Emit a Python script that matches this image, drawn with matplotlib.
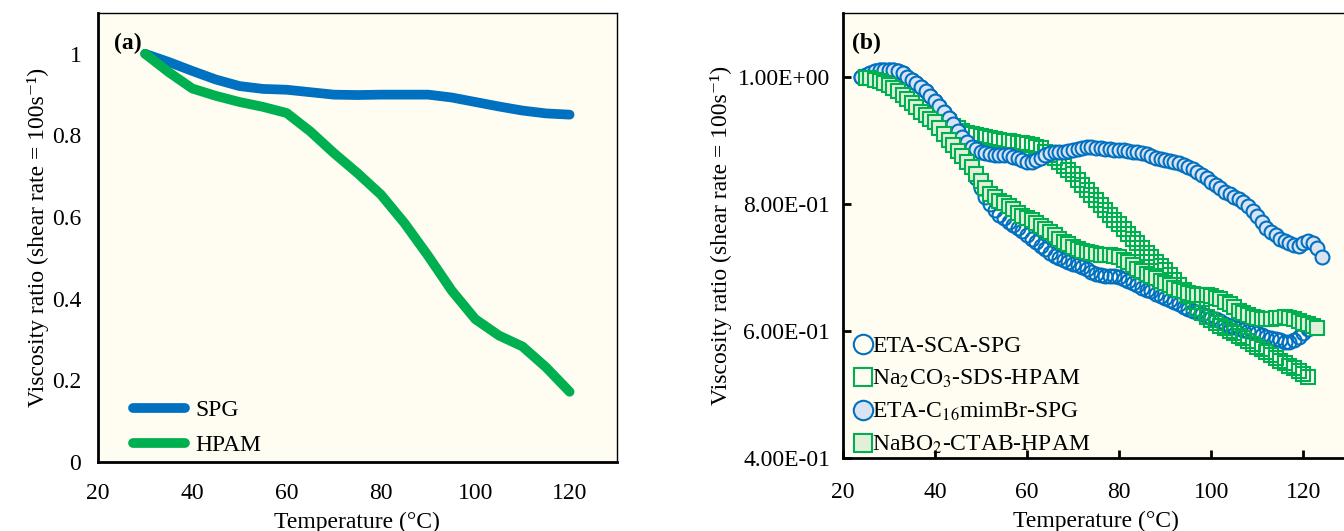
import numpy as np
import matplotlib
matplotlib.use("Agg")
import matplotlib.pyplot as plt

plt.rcParams['font.family'] = ['Liberation Serif', 'DejaVu Serif']
plt.rcParams['mathtext.fontset'] = 'stix'

# ---------------- Panel (a) data ----------------
temp_a = [30, 35, 40, 45, 50, 55, 60, 65, 70, 75, 80, 85, 90, 95, 100, 105, 110, 115, 120]
spg_a = [1.0, 0.98, 0.958, 0.937, 0.921, 0.914, 0.912, 0.906, 0.9, 0.899, 0.9, 0.9, 0.9, 0.893,
         0.882, 0.871, 0.861, 0.854, 0.851]
hpam_a = [1.0, 0.955, 0.915, 0.897, 0.882, 0.87, 0.855, 0.81, 0.757, 0.708, 0.655, 0.585, 0.505,
          0.42, 0.35, 0.31, 0.283, 0.232, 0.172]

# ---------------- Panel (b) data ----------------
temp_sca_spg = np.arange(24, 122)
sca_spg = [1.000, 1.003, 1.006, 1.008, 1.010, 1.011, 1.011, 1.010, 1.008, 1.005,
           1.000, 0.995, 0.990, 0.984, 0.977, 0.970, 0.962, 0.954, 0.945, 0.935,
           0.923, 0.910, 0.893, 0.875, 0.857, 0.840, 0.824, 0.810, 0.799, 0.790,
           0.783, 0.777, 0.772, 0.767, 0.762, 0.757, 0.751, 0.745, 0.739, 0.733,
           0.728, 0.723, 0.718, 0.714, 0.711, 0.708, 0.705, 0.703, 0.700, 0.697,
           0.692, 0.689, 0.688, 0.687, 0.687, 0.686, 0.685, 0.682, 0.678, 0.675,
           0.672, 0.668, 0.665, 0.662, 0.658, 0.655, 0.652, 0.648, 0.645, 0.642,
           0.638, 0.635, 0.632, 0.630, 0.627, 0.624, 0.621, 0.618, 0.615, 0.611,
           0.608, 0.606, 0.604, 0.602, 0.600, 0.598, 0.596, 0.594, 0.591, 0.589,
           0.587, 0.585, 0.583, 0.583, 0.585, 0.590, 0.597, 0.603]

temp_sds_hpam = np.arange(25, 122)
sds_hpam = [1.000, 1.000, 0.999, 0.998, 0.997, 0.995, 0.993, 0.990, 0.986, 0.982,
            0.977, 0.971, 0.965, 0.958, 0.952, 0.945, 0.939, 0.933, 0.928, 0.923,
            0.919, 0.915, 0.912, 0.910, 0.908, 0.906, 0.905, 0.903, 0.902, 0.900,
            0.899, 0.898, 0.897, 0.896, 0.895, 0.894, 0.893, 0.890, 0.887, 0.882,
            0.877, 0.872, 0.866, 0.860, 0.853, 0.846, 0.838, 0.830, 0.822, 0.814,
            0.806, 0.798, 0.790, 0.783, 0.775, 0.768, 0.760, 0.753, 0.745, 0.738,
            0.730, 0.723, 0.716, 0.709, 0.702, 0.695, 0.688, 0.680, 0.672, 0.664,
            0.655, 0.645, 0.635, 0.628, 0.622, 0.617, 0.613, 0.608, 0.604, 0.600,
            0.596, 0.592, 0.588, 0.584, 0.580, 0.575, 0.571, 0.566, 0.562, 0.557,
            0.553, 0.549, 0.545, 0.541, 0.537, 0.532, 0.528]

temp_c16_spg = np.arange(24, 125)
c16_spg = [1.000, 1.003, 1.006, 1.008, 1.010, 1.011, 1.011, 1.010, 1.008, 1.005,
           1.000, 0.995, 0.990, 0.984, 0.977, 0.970, 0.962, 0.954, 0.945, 0.935,
           0.925, 0.915, 0.905, 0.897, 0.890, 0.886, 0.882, 0.880, 0.878, 0.877,
           0.877, 0.876, 0.876, 0.874, 0.872, 0.869, 0.866, 0.865, 0.868, 0.872,
           0.876, 0.879, 0.881, 0.882, 0.882, 0.883, 0.884, 0.886, 0.888, 0.889,
           0.889, 0.888, 0.887, 0.886, 0.886, 0.885, 0.885, 0.884, 0.883, 0.882,
           0.881, 0.880, 0.878, 0.875, 0.872, 0.870, 0.868, 0.867, 0.866, 0.864,
           0.861, 0.858, 0.854, 0.850, 0.845, 0.840, 0.834, 0.829, 0.824, 0.819,
           0.815, 0.811, 0.807, 0.802, 0.797, 0.789, 0.780, 0.771, 0.762, 0.756,
           0.750, 0.745, 0.741, 0.738, 0.735, 0.733, 0.738, 0.742, 0.738, 0.730,
           0.716]

temp_ctab_hpam = np.arange(25, 124)
ctab_hpam = [0.998, 0.997, 0.995, 0.993, 0.990, 0.986, 0.982, 0.977, 0.971, 0.965,
             0.958, 0.952, 0.945, 0.940, 0.934, 0.928, 0.919, 0.909, 0.900, 0.892,
             0.883, 0.875, 0.866, 0.857, 0.846, 0.835, 0.825, 0.815, 0.810, 0.805,
             0.801, 0.797, 0.791, 0.785, 0.781, 0.778, 0.774, 0.770, 0.765, 0.760,
             0.755, 0.750, 0.745, 0.740, 0.736, 0.732, 0.729, 0.726, 0.724, 0.722,
             0.721, 0.720, 0.720, 0.720, 0.718, 0.716, 0.712, 0.708, 0.703, 0.698,
             0.694, 0.690, 0.686, 0.683, 0.679, 0.676, 0.672, 0.668, 0.665, 0.662,
             0.660, 0.658, 0.657, 0.657, 0.656, 0.655, 0.652, 0.650, 0.646, 0.642,
             0.637, 0.632, 0.628, 0.625, 0.622, 0.620, 0.619, 0.618, 0.619, 0.620,
             0.621, 0.622, 0.620, 0.618, 0.616, 0.613, 0.611, 0.608, 0.604]

labels_b = ['ETA-SCA-SPG', 'Na$_2$CO$_3$-SDS-HPAM', 'ETA-C$_{16}$mimBr-SPG', 'NaBO$_2$-CTAB-HPAM']
xticks = [20, 40, 60, 80, 100, 120]
yticks_a = [0, 0.2, 0.4, 0.6, 0.8, 1.0]
yticklabels_a = ['0', '0.2', '0.4', '0.6', '0.8', '1']
yticks_b = [0.4, 0.6, 0.8, 1.0]
yticklabels_b = ['4.00E-01', '6.00E-01', '8.00E-01', '1.00E+00']
ylabel_text = 'Viscosity ratio (shear rate = 100s\u207b\u00b9)'

BLUE = '#0070C0'
GREEN = '#00B050'
BG = '#FFFDF2'
FS = 17

fig = plt.figure(figsize=(13.44, 5.31), dpi=100)

def style_axes(ax):
    ax.set_facecolor(BG)
    for s in ['left', 'bottom']:
        ax.spines[s].set_linewidth(2.0)
    for s in ['top', 'right']:
        ax.spines[s].set_linewidth(1.0)
    for s in ax.spines.values():
        s.set_color('black')

# ---- Panel (a) ----
axa = fig.add_axes([0.0729, 0.130, 0.386, 0.8455])
style_axes(axa)
axa.plot(temp_a, spg_a, color=BLUE, lw=7, solid_capstyle='round', solid_joinstyle='round', label='SPG')
axa.plot(temp_a, hpam_a, color=GREEN, lw=7, solid_capstyle='round', solid_joinstyle='round', label='HPAM')
axa.set_xlim(20, 130)
axa.set_ylim(0, 1.1)
axa.set_xticks(xticks)
axa.set_yticks(yticks_a)
axa.set_yticklabels(yticklabels_a)
axa.tick_params(axis='both', length=0, labelsize=FS)
axa.tick_params(axis='x', pad=15)
axa.tick_params(axis='y', pad=12)
axa.set_xlabel('Temperature (°C)', fontsize=FS, labelpad=6)
axa.set_ylabel(ylabel_text, fontsize=FS, labelpad=2)
axa.text(0.03, 0.955, '(a)', transform=axa.transAxes, fontsize=FS, fontweight='bold', va='top')
leg_a = axa.legend(loc='lower left', bbox_to_anchor=(0.027, -0.034), frameon=False, fontsize=FS,
                   handlelength=2.2, handletextpad=0.45, labelspacing=0.55)

# ---- Panel (b) ----
axb = fig.add_axes([0.627, 0.1375, 0.377, 0.838])
style_axes(axb)
ms = 10
mew = 1.5
axb.plot(temp_sca_spg, sca_spg, ls='none', marker='o', ms=ms, mfc='none', mec=BLUE, mew=mew, label=labels_b[0])
axb.plot(temp_sds_hpam, sds_hpam, ls='none', marker='s', ms=ms - 0.5, mfc='none', mec=GREEN, mew=mew, label=labels_b[1])
axb.plot(temp_c16_spg, c16_spg, ls='none', marker='o', ms=ms, mfc='#DAE3F3', mec=BLUE, mew=mew, label=labels_b[2])
axb.plot(temp_ctab_hpam, ctab_hpam, ls='none', marker='s', ms=ms - 0.5, mfc='#E2F0D9', mec=GREEN, mew=mew, label=labels_b[3])
axb.set_xlim(20, 130)
axb.set_ylim(0.4, 1.1)
axb.set_xticks(xticks)
axb.set_yticks(yticks_b)
axb.set_yticklabels(yticklabels_b)
axb.tick_params(axis='both', direction='in', length=6, width=2, labelsize=FS)
axb.tick_params(axis='x', pad=17)
axb.tick_params(axis='y', pad=9)
axb.set_xlabel('Temperature (°C)', fontsize=FS, labelpad=6)
axb.set_ylabel(ylabel_text, fontsize=FS, labelpad=4)
axb.text(0.018, 0.955, '(b)', transform=axb.transAxes, fontsize=FS, fontweight='bold', va='top')
leg_b = axb.legend(loc='lower left', bbox_to_anchor=(-0.012, -0.033), frameon=False, fontsize=FS,
                   markerscale=1.4, handlelength=0.8, handletextpad=0.0, labelspacing=0.45,
                   borderpad=0.2)

fig.savefig('out.png', dpi=100, facecolor='white')
